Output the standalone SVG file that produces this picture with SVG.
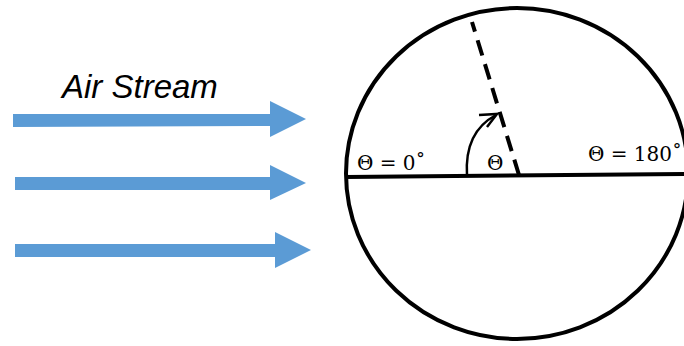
<svg xmlns="http://www.w3.org/2000/svg" width="684" height="346" viewBox="0 0 684 346">
<style>
.flow{fill:#5B9BD5}
.ln{stroke:#000;fill:none}
.lbl{font-family:"DejaVu Serif","Liberation Serif",serif;font-size:20px;fill:#000}
.title{font-family:"Liberation Sans",Arial,sans-serif;font-style:italic;font-size:33px;fill:#000}
</style>
<text class="title" x="62" y="98">Air Stream</text>
<g id="connectors">
<path id="arrow1" class="flow" d="M13 114 L270 114 L270 101 L306 119 L270 137 L270 126 L13 127 Z"/>
<path id="arrow2" class="flow" d="M15 177 L270 177 L270 165 L306 183 L270 200 L270 190 L15 190 Z"/>
<path id="arrow3" class="flow" d="M15 244 L275 244 L275 232 L311 250 L275 268 L275 257 L15 257 Z"/>
</g>
<g id="cylinder">
<ellipse class="ln" cx="517" cy="173.5" rx="171" ry="165.5" stroke-width="4"/>
<line class="ln" x1="346" y1="177" x2="684" y2="174" stroke-width="4"/>
<line class="ln" x1="519" y1="175" x2="472" y2="22" stroke-width="4" stroke-dasharray="16 9"/>
<path class="ln" d="M467 176 Q464 132 496 115" stroke-width="2.5"/>
<path class="ln" d="M479 115 L497 114 L487 127" stroke-width="2.5"/>
<text class="lbl" x="357" y="170">Θ = 0˚</text>
<text class="lbl" x="487" y="170">Θ</text>
<text class="lbl" x="682" y="161" text-anchor="end">Θ = 180˚</text>
</g>
</svg>
